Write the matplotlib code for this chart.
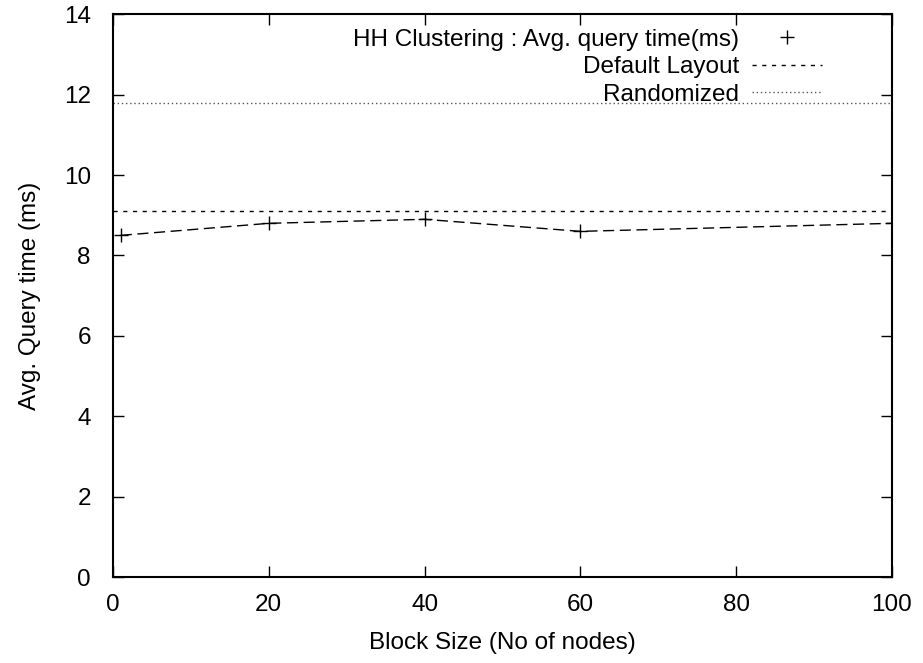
import matplotlib
matplotlib.use("Agg")
import matplotlib.pyplot as plt
from matplotlib.lines import Line2D

plt.rcParams['font.family'] = ['Liberation Sans', 'DejaVu Sans']

# data
block_size = [1, 20, 40, 60, 100]
hh_query_time = [8.5, 8.8, 8.9, 8.6, 8.8]
default_layout = 9.1
randomized = 11.8

x_ticks = [0, 20, 40, 60, 80, 100]
y_ticks = [0, 2, 4, 6, 8, 10, 12, 14]

fs = 17.5

fig = plt.figure(figsize=(9.23, 6.63), dpi=100)
ax = fig.add_axes([0.1224, 0.1297, 0.844, 0.8487])

ax.plot(block_size, hh_query_time, color='black', lw=1, dashes=(8, 4))
ax.plot(block_size, hh_query_time, ls='none', marker='+', ms=10, mew=1, color='black')
ax.axhline(default_layout, color='black', lw=1, dashes=(3, 4))
ax.axhline(randomized, color='#555555', lw=1, dashes=(1, 2))

ax.set_xlim(0, 100)
ax.set_ylim(0, 14)
ax.set_xticks(x_ticks)
ax.set_yticks(y_ticks)
ax.tick_params(direction='in', length=8, width=1, top=True, right=True,
               labelsize=fs)
ax.tick_params(axis='x', pad=12)
ax.tick_params(axis='y', pad=16)
for s in ax.spines.values():
    s.set_linewidth(1.5)

ax.set_xlabel('Block Size (No of nodes)', fontsize=fs, labelpad=12)
ax.set_ylabel('Avg. Query time (ms)', fontsize=fs, labelpad=16)

handles = [
    Line2D([], [], ls='none', marker='+', ms=10, mew=1, color='black'),
    Line2D([], [], color='black', lw=1, dashes=(3, 4)),
    Line2D([], [], color='#555555', lw=1, dashes=(1, 2)),
]
labels = ['HH Clustering : Avg. query time(ms)', 'Default Layout', 'Randomized']
ax.legend(handles, labels, loc='upper right', markerfirst=False, frameon=False,
          fontsize=fs, handlelength=2.9, labelspacing=0.22, handletextpad=0.5,
          borderaxespad=0.2, bbox_to_anchor=(0.929, 1.0))

fig.savefig('out.png', dpi=100)
